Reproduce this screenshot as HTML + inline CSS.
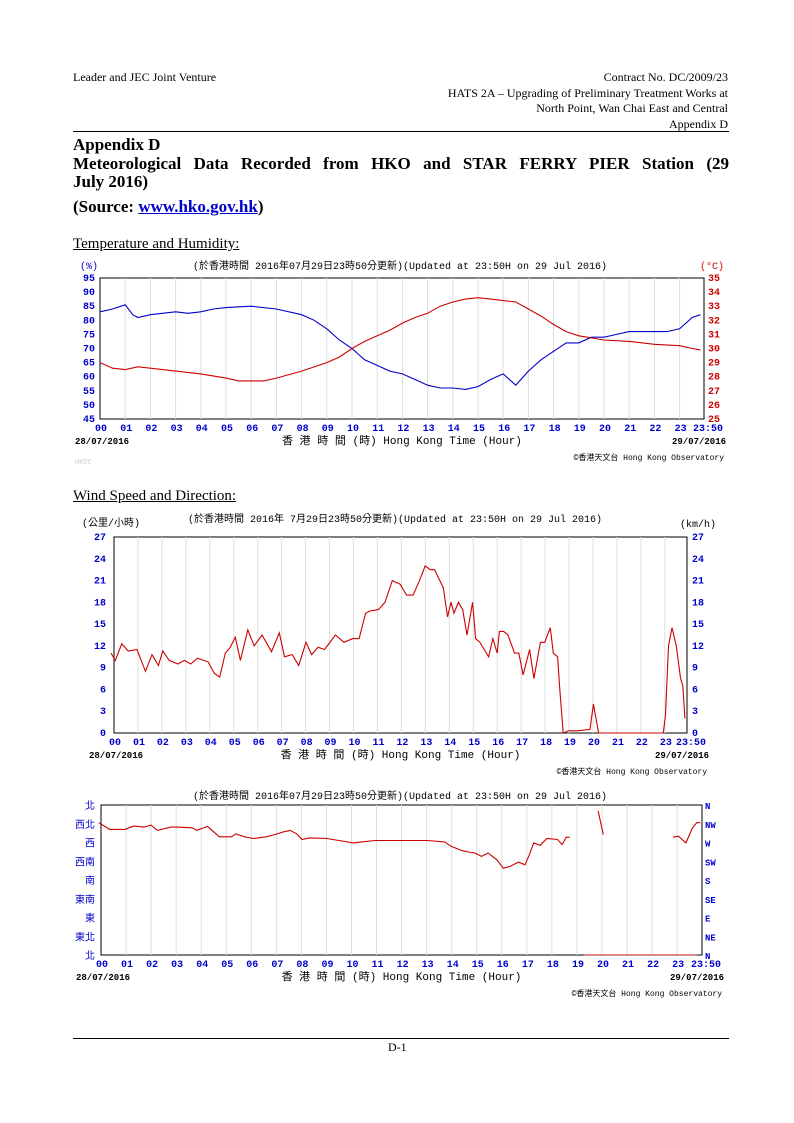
<!DOCTYPE html>
<html><head><meta charset="utf-8"><style>
body{margin:0;background:#fff;}
#pg{position:relative;width:794px;height:1123px;font-family:"Liberation Serif","Noto Serif CJK SC",serif;color:#000;}
.t{position:absolute;white-space:nowrap;}
.j{text-align:justify;text-align-last:justify;white-space:nowrap;}
svg text{font-family:"Liberation Mono","Noto Sans CJK TC",monospace;}
</style></head><body><div id="pg">
<div class="t" style="left:73px;top:70px;font-size:12px">Leader and JEC Joint Venture</div>
<div class="t" style="right:66px;top:70px;font-size:12px;text-align:right;line-height:15.5px">Contract No. DC/2009/23<br>HATS 2A – Upgrading of Preliminary Treatment Works at<br>North Point, Wan Chai East and Central<br>Appendix D</div>
<div style="position:absolute;left:73px;top:131px;width:656px;border-top:1px solid #000"></div>
<div style="position:absolute;left:73px;top:136px;font-size:17px;font-weight:bold;line-height:18.5px;width:656px">
<div>Appendix D</div>
<div class="j">Meteorological Data Recorded from HKO and STAR FERRY PIER Station (29</div>
<div>July 2016)</div>
<div style="margin-top:6px">(Source: <span style="color:#00c;text-decoration:underline">www.hko.gov.hk</span>)</div>
</div>
<div class="t" style="left:73px;top:236px;font-size:15px;text-decoration:underline">Temperature and Humidity:</div>
<div class="t" style="left:73px;top:488px;font-size:15px;text-decoration:underline">Wind Speed and Direction:</div>
<div style="position:absolute;left:73px;top:1038px;width:656px;border-top:1px solid #000"></div>
<div class="t" style="left:388px;top:1040px;font-size:12px">D-1</div>
<svg id="s" width="794" height="1123" style="position:absolute;left:0;top:0"></svg>
</div>
<script>
const s=document.getElementById('s');let h='';
function T(x,y,t,o){o=o||{};h+=`<text x="${x}" y="${y}" font-size="${o.fs||10}" fill="${o.c||'#000'}" text-anchor="${o.a||'start'}" font-weight="${o.w||'normal'}">${t}</text>`;}
function chart(c){
 const {x0,x1,y0,y1,hw}=c;
 h+=`<rect x="${x0}" y="${y0}" width="${x1-x0}" height="${y1-y0}" fill="#fff" stroke="#000" stroke-width="1"/>`;
 for(let i=1;i<24;i++){const x=x0+i*hw;h+=`<line x1="${x}" y1="${y0}" x2="${x}" y2="${y1}" stroke="#ddd"/>`;}
 for(let i=0;i<24;i++){T(x0+i*hw+1,y1+12,String(i).padStart(2,'0'),{c:'#00c',a:'middle',w:'bold'});}
 T(x1+4,y1+12,'23:50',{c:'#00c',a:'middle',w:'bold'});
 T(x0-25,y1+25,'28/07/2016',{fs:9,w:'bold'});T(x1+22,y1+25,'29/07/2016',{fs:9,w:'bold',a:'end'});
 T((x0+x1)/2,y1+25,'香 港 時 間 (時) Hong Kong Time (Hour)',{fs:11,a:'middle'});
 T(x1+20,y1+41,'©香港天文台 Hong Kong Observatory',{fs:8,a:'end'});
}
function line(pts,c){let d='';pts.forEach((p,i)=>d+=(i?'L':'M')+p[0].toFixed(1)+' '+p[1].toFixed(1));h+=`<path d="${d}" fill="none" stroke="${c}" stroke-width="1.1"/>`;}
// Chart 1
{const x0=100,x1=704,y0=278,y1=419,hw=25.2;
for(let v=50;v<95;v+=5){const y=y1-(v-45)/50*(y1-y0);h+=`<line x1="${x0}" y1="${y}" x2="${x1}" y2="${y}" stroke="#ddd"/>`;}
chart({x0,x1,y0,y1,hw});
for(let i=0;i<=10;i++){const y=y1-i/10*(y1-y0);T(x0-5,y+3,45+i*5,{c:'#00c',a:'end',w:'bold'});T(x1+4,y+3,25+i,{c:'#c00',w:'bold'});}
T(80,269,'(%)',{c:'#00c'});T(700,269,'(°C)',{c:'#c00'});
T(400,269,'(於香港時間 2016年07月29日23時50分更新)(Updated at 23:50H on 29 Jul 2016)',{a:'middle'});
T(75,464,'HKOC',{fs:7,c:'#ccc'});
const hu=[[0,83],[0.5,84],[1,85.5],[1.3,82],[1.5,81],[2,82],[3,83],[3.5,82.5],[4,83],[4.5,84],[5,84.5],[6,85],[7,84],[8,82],[8.5,80],[9,77],[9.5,73],[10,70],[10.5,66],[11,64],[11.5,62],[12,61],[12.5,59],[13,57],[13.5,56],[14,56],[14.5,55.5],[15,56.5],[15.5,59],[16,61],[16.5,57],[17,62],[17.5,66],[18,69],[18.5,72],[19,72],[19.5,74],[20,74],[20.5,75],[21,76],[22,76],[22.5,76],[23,77],[23.5,81],[23.83,82]];
const te=[[0,29],[0.5,28.6],[1,28.5],[1.5,28.7],[2,28.6],[3,28.4],[4,28.2],[5,27.9],[5.5,27.7],[6.5,27.7],[7,27.9],[8,28.4],[9,29],[9.5,29.4],[10,30],[10.5,30.5],[11,30.9],[11.5,31.3],[12,31.8],[12.5,32.2],[13,32.5],[13.5,33],[14,33.3],[14.5,33.5],[15,33.6],[15.5,33.5],[16,33.4],[16.5,33.3],[17,32.8],[17.5,32.3],[18,31.7],[18.5,31.2],[19,30.9],[20,30.6],[21,30.5],[22,30.3],[23,30.2],[23.5,30],[23.83,29.9]];
line(hu.map(p=>[x0+p[0]*hw,y1-(p[1]-45)/50*(y1-y0)]),'#00c');
line(te.map(p=>[x0+p[0]*hw,y1-(p[1]-25)/10*(y1-y0)]),'#c00');}
// Chart 2
{const x0=114,x1=687,y0=537,y1=733,hw=23.95;
for(let v=3;v<27;v+=3){const y=y1-v/27*(y1-y0);h+=`<line x1="${x0}" y1="${y}" x2="${x1}" y2="${y}" stroke="#ddd"/>`;}
chart({x0,x1,y0,y1,hw});
for(let v=0;v<=27;v+=3){const y=y1-v/27*(y1-y0);T(x0-8,y+3,v,{c:'#00c',a:'end',w:'bold'});T(x1+5,y+3,v,{c:'#00c',w:'bold'});}
T(82,526,'(公里/小時)');T(680,527,'(km/h)');
T(395,522,'(於香港時間 2016年 7月29日23時50分更新)(Updated at 23:50H on 29 Jul 2016)',{a:'middle'});
const w=[[120,11],[130,10],[145,12.3],[160,11.3],[180,11.5],[200,8.5],[215,10.8],[230,9.3],[240,11.3],[255,10],[275,9.5],[290,10],[305,9.5],[320,10.3],[345,9.8],[360,8.2],[372,7.7],[385,11],[395,11.7],[408,13.2],[420,10],[437,14.2],[452,12],[470,13.5],[492,11.2],[510,13.8],[522,10.5],[540,10.8],[555,9.3],[572,12.5],[585,10.8],[600,11.8],[615,11.5],[640,13.5],[660,12.5],[680,13],[695,13],[710,16.5],[720,16.8],[740,17],[755,18],[772,21],[790,20.5],[805,19],[820,19],[835,21],[848,23],[860,22.5],[870,22.5],[890,20],[900,16],[908,18],[915,16.5],[925,18],[935,17],[945,13.5],[958,18],[965,13],[975,12.5],[990,11],[995,10.5],[1005,13],[1015,11],[1020,14],[1030,14],[1040,13.5],[1055,11],[1065,11],[1075,8],[1090,11.5],[1100,7.5],[1115,12.5],[1125,12.5],[1138,14.5],[1145,11],[1155,10.5],[1160,6],[1168,0],[1180,0.3],[1200,0.3],[1230,0.5],[1238,4],[1250,0],[1400,0],[1405,2.5],[1412,12],[1420,14.5],[1430,12],[1440,7.5],[1445,6.5],[1450,2]];
line(w.map(p=>[x0+(p[0]-127)/55.5*hw,y1-p[1]/27*(y1-y0)]),'#c00');}
// Chart 3
{const x0=101,x1=702,y0=805,y1=955,hw=25.05;
for(let i=1;i<8;i++){const y=y0+i*(y1-y0)/8;h+=`<line x1="${x0}" y1="${y}" x2="${x1}" y2="${y}" stroke="#ddd"/>`;}
chart({x0,x1,y0,y1,hw});
const L=['北','東北','東','東南','南','西南','西','西北','北'],R=['N','NE','E','SE','S','SW','W','NW','N'];
for(let i=0;i<=8;i++){const y=y1-i*(y1-y0)/8;T(x0-6,y+4,L[i],{c:'#00c',a:'end',fs:10});T(x1+3,y+4,R[i],{c:'#00c',w:'bold',fs:9});}
T(400,799,'(於香港時間 2016年07月29日23時50分更新)(Updated at 23:50H on 29 Jul 2016)',{a:'middle'});
const cv=p=>[x0+(p[0]-100)/57.6*hw,y1-(508-p[1])/55.7*(y1-y0)/8];
line([[95,115],[120,135],[155,135],[175,125],[200,128],[215,122],[230,138],[260,128],[275,128],[310,130],[320,138],[345,126],[372,157],[400,157],[410,148],[430,157],[450,162],[480,157],[500,150],[520,142],[535,138],[550,148],[562,165],[580,160],[620,162],[680,175],[700,172],[730,168],[850,168],[890,172],[905,185],[930,198],[945,202],[960,205],[975,215],[990,205],[1000,215],[1010,225],[1025,250],[1040,245],[1060,232],[1075,240],[1085,210],[1095,175],[1110,182],[1125,162],[1150,165],[1160,180],[1170,158],[1178,158]].map(cv),'#c00');
line([[1243,80],[1255,150]].map(cv),'#c00');
line([[1415,158],[1428,155],[1445,175],[1460,130],[1470,115],[1478,115]].map(cv),'#c00');
line([[1210,507],[1470,507]].map(cv),'#e66');}
s.innerHTML=h;
</script>
</body></html>
